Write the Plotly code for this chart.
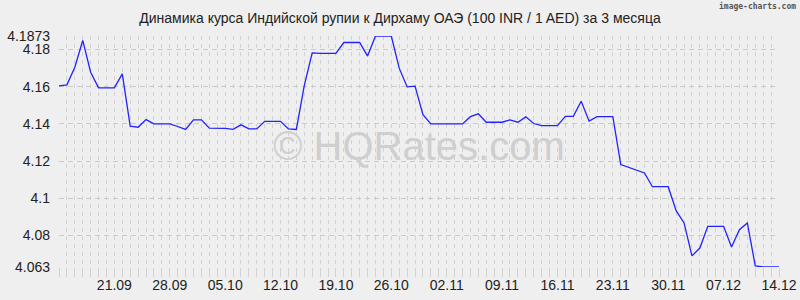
import plotly.graph_objects as go
import pandas as pd

title_text = "Динамика курса Индийской рупии к Дирхаму ОАЭ (100 INR / 1 AED) за 3 месяца"
start_date = "2023-09-14"
rates = [
    4.1605, 4.1610, 4.1705, 4.1849, 4.1678, 4.1594, 4.1594, 4.1594, 4.1669, 4.1388,
    4.1382, 4.1423, 4.1400, 4.1400, 4.1400, 4.1386, 4.1370, 4.1422, 4.1422, 4.1377,
    4.1377, 4.1376, 4.1371, 4.1395, 4.1373, 4.1373, 4.1414, 4.1414, 4.1414, 4.1373,
    4.1370, 4.1606, 4.1782, 4.1780, 4.1780, 4.1780, 4.1838, 4.1838, 4.1838, 4.1765,
    4.1873, 4.1873, 4.1873, 4.1700, 4.1599, 4.1603, 4.1450, 4.1400, 4.1400, 4.1400,
    4.1400, 4.1400, 4.1439, 4.1454, 4.1409, 4.1409, 4.1409, 4.1422, 4.1409, 4.1438,
    4.1402, 4.1391, 4.1391, 4.1391, 4.1441, 4.1441, 4.1522, 4.1415, 4.1439, 4.1439,
    4.1439, 4.1181, 4.1167, 4.1151, 4.1136, 4.1062, 4.1062, 4.1062, 4.0933, 4.0867,
    4.0690, 4.0732, 4.0849, 4.0849, 4.0849, 4.0738, 4.0831, 4.0867, 4.0636, 4.0630,
    4.0630, 4.0630,
]
x_tick_dates = ["2023-09-21", "2023-09-28", "2023-10-05", "2023-10-12", "2023-10-19",
                "2023-10-26", "2023-11-02", "2023-11-09", "2023-11-16", "2023-11-23",
                "2023-11-30", "2023-12-07", "2023-12-14"]
x_tick_labels = ["21.09", "28.09", "05.10", "12.10", "19.10", "26.10", "02.11",
                 "09.11", "16.11", "23.11", "30.11", "07.12", "14.12"]
y_tick_vals = [4.063, 4.08, 4.1, 4.12, 4.14, 4.16, 4.18, 4.1873]
y_tick_labels = ["4.063", "4.08", "4.1", "4.12", "4.14", "4.16", "4.18", "4.1873"]

dates = pd.date_range(start_date, periods=len(rates), freq="D")

BG = "#efefef"
GRID = "#d2d2d2"
HGRID = "#cacaca"

fig = go.Figure()
fig.add_trace(go.Scatter(
    x=dates, y=rates, mode="lines",
    line=dict(color="#2222ff", width=1.3),
    hoverinfo="x+y",
))

fig.update_layout(
    width=800, height=300,
    margin=dict(l=59, r=21, t=36, b=33),
    paper_bgcolor=BG, plot_bgcolor=BG,
    showlegend=False,
    font=dict(family="Liberation Sans, Arial, sans-serif", size=14, color="#222222"),
    title=dict(text=title_text, x=0.5, xanchor="center", y=1 - 18 / 300,
               yanchor="middle", yref="container",
               font=dict(size=14, color="#222222")),
)

fig.update_xaxes(
    type="date", automargin=False,
    range=[dates[0], dates[-1]],
    tickmode="array", tickvals=x_tick_dates, ticktext=x_tick_labels,
    ticks="outside", ticklen=5, tickcolor=GRID, tickwidth=1,
    showgrid=True, gridcolor=GRID, griddash="4px,4px", gridwidth=1,
    minor=dict(dtick=86400000, showgrid=True, gridcolor=GRID, griddash="4px,4px",
               ticks="outside", ticklen=9, tickcolor=GRID),
    showline=False, zeroline=False,
    tickfont=dict(size=14, color="#222222"),
)

fig.update_yaxes(
    automargin=False,
    range=[4.063, 4.1873],
    tickmode="array", tickvals=y_tick_vals, ticktext=y_tick_labels,
    showgrid=True, gridcolor=HGRID, griddash="5px,4px", gridwidth=1,
    ticks="", ticklabelstandoff=8,
    showline=False, zeroline=False,
    tickfont=dict(size=14, color="#222222"),
)

fig.add_annotation(
    text="© HQRates.com", xref="paper", yref="paper",
    x=0.5, y=(266.7 - 146) / 230.7, xanchor="center", yanchor="middle",
    showarrow=False, font=dict(size=40, color="#cfcfcf",
                               family="Liberation Sans, Arial, sans-serif"),
)
fig.add_annotation(
    text="<b>image-charts.com</b>", xref="paper", yref="paper",
    x=(798 - 59) / 720, y=(266.7 - 6) / 230.7, xanchor="right", yanchor="middle",
    showarrow=False, font=dict(size=8, color="#555555", family="DejaVu Sans Mono"),
)

fig.write_html("out.html")
